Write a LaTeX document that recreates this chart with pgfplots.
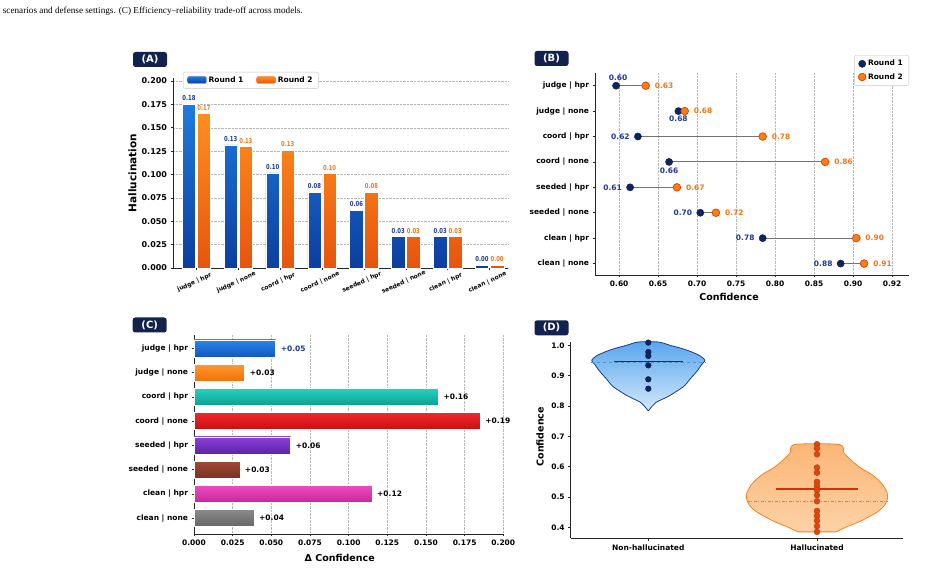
\documentclass[border=0pt]{standalone}
\usepackage{fontspec}
\setmainfont{DejaVu Sans}
\newfontfamily\capfont{Liberation Serif}
\newfontfamily\condfont[FakeStretch=0.78]{DejaVu Sans}
\usepackage{pgfplots}
\usepackage{pgfplotstable}
\pgfplotsset{compat=1.18}

% ---------- colours ----------
\definecolor{tagnavy}{HTML}{13224D}
\definecolor{rOneLight}{HTML}{1E7BE0}
\definecolor{rOneDark}{HTML}{0C3E9E}
\definecolor{rTwoLight}{HTML}{FF8E1F}
\definecolor{rTwoDark}{HTML}{E6550E}
\definecolor{lblBlue}{HTML}{1F3A93}
\definecolor{lblOrange}{HTML}{F07818}
\definecolor{dotNavy}{HTML}{0E2463}
\definecolor{dotOrange}{HTML}{FF7F0E}
\definecolor{dotOrangeEdge}{HTML}{E5420C}
\definecolor{vBlueTop}{HTML}{5AA6EE}
\definecolor{vBlueTip}{HTML}{D3E8FB}
\definecolor{vBlueEdge}{HTML}{1B3A8C}
\definecolor{vOrgTop}{HTML}{FBB676}
\definecolor{vOrgBot}{HTML}{FDD2A6}
\definecolor{vOrgEdge}{HTML}{F58220}
\definecolor{hallDot}{HTML}{D9480F}
\definecolor{hallDotEdge}{HTML}{B8360A}
\definecolor{medBlue}{HTML}{4F8FD0}
\definecolor{medOrange}{HTML}{F07A20}
\definecolor{meanNavy}{HTML}{13296B}
\definecolor{meanRed}{HTML}{D0300A}
\definecolor{cBlueT}{HTML}{2A86E8}\definecolor{cBlueB}{HTML}{1357C0}
\definecolor{cOrgT}{HTML}{FF9A2E}\definecolor{cOrgB}{HTML}{F0700A}
\definecolor{cTealT}{HTML}{22D3C0}\definecolor{cTealB}{HTML}{0F9E92}
\definecolor{cRedT}{HTML}{F0282A}\definecolor{cRedB}{HTML}{C80F12}
\definecolor{cPurT}{HTML}{8A42D8}\definecolor{cPurB}{HTML}{5E22A8}
\definecolor{cBrnT}{HTML}{A04A36}\definecolor{cBrnB}{HTML}{7A3020}
\definecolor{cMagT}{HTML}{EC4CBF}\definecolor{cMagB}{HTML}{C8279A}
\definecolor{cGryT}{HTML}{8A8A8A}\definecolor{cGryB}{HTML}{666666}

% ---------- data ----------
% (A) hallucination rate per scenario/defense and round
\pgfplotstableread{
g r1 r2
0 0.1751 0.1651
1 0.1316 0.1297
2 0.1016 0.1260
3 0.0810 0.1010
4 0.0620 0.0810
5 0.0335 0.0335
6 0.0335 0.0335
7 0.0029 0.0029
}\halluc

% (B) mean confidence, round 1 vs round 2 (row 7 = judge | hpr)
\pgfplotstableread{
row r1 r2
7 0.596 0.634
6 0.676 0.684
5 0.624 0.784
4 0.664 0.864
3 0.614 0.674
2 0.704 0.724
1 0.784 0.904
0 0.884 0.914
}\dumbbell

% (C) change in confidence
\pgfplotstableread{
row d
7 0.0528
6 0.0328
5 0.1580
4 0.1851
3 0.0625
2 0.0296
1 0.1151
0 0.0388
}\deltaconf

\tikzset{
  tag/.style={fill=tagnavy, rounded corners=2.5pt, text=white,
    font=\bfseries\fontsize{10}{12}\selectfont,
    minimum width=34pt, minimum height=15pt, inner sep=0pt},
  vallabel/.style={font=\bfseries\fontsize{7.5}{9}\selectfont, inner sep=0pt},
}

\pgfplotsset{
  panel/.style={
    scale only axis,
    anchor=south west,
    axis x line*=bottom, axis y line*=left,
    axis line style={-, black!85, line width=0.6pt},
    tick align=outside,
    major tick length=2.5pt,
    tick style={black!85, line width=0.5pt},
    tick label style={font=\bfseries\fontsize{7.5}{9}\selectfont},
    label style={font=\bfseries\fontsize{9.5}{11}\selectfont},
    /pgf/number format/assume math mode=true,
    grid style={densely dotted, black!28, line width=0.4pt},
    clip=false,
  },
  twodp/.style={nodes near coords={\pgfmathprintnumber[fixed,fixed zerofill,precision=2]{\pgfplotspointmeta}}},
  labelonly/.style={forget plot, only marks, mark=none},
}

\newcommand{\scen}{clean | none, clean | hpr, seeded | none, seeded | hpr, coord | none, coord | hpr, judge | none, judge | hpr}

\begin{document}
\begin{tikzpicture}
\path[use as bounding box] (0pt,0pt) rectangle (927pt,577pt);

\node[anchor=base west, inner sep=0pt, font=\capfont\fontsize{9.2}{11}\selectfont]
  at (2.7pt,563.5pt) {scenarios and defense settings. (C) Efficiency–reliability trade-off across models.};

% ================= (A) grouped bars =================
\begin{axis}[panel,
  at={(173pt,309pt)}, width=335pt, height=190pt,
  xmin=-0.56, xmax=7.44, ymin=0, ymax=0.2032,
  xtick={0,...,7},
  xticklabels={judge | hpr, judge | none, coord | hpr, coord | none, seeded | hpr, seeded | none, clean | hpr, clean | none},
  xticklabel style={anchor=center, yshift=-12pt, xshift=-2pt, rotate=25, font=\bfseries\fontsize{6}{7}\selectfont},
  ytick={0,0.025,0.05,0.075,0.1,0.125,0.15,0.175,0.2},
  yticklabel style={font=\bfseries\fontsize{8}{9}\selectfont, /pgf/number format/.cd, fixed, fixed zerofill, precision=3},
  ymajorgrids,
  ylabel={Hallucination},
  ylabel style={at={(axis description cs:-0.121,0.5)}, anchor=center, font=\bfseries\fontsize{10.5}{12}\selectfont},
  legend style={at={(axis description cs:0.03,1.0316)}, anchor=north west,
    legend columns=2, draw=black!22, rounded corners=2pt, fill=white,
    font=\bfseries\fontsize{7.5}{9}\selectfont, inner xsep=4pt, inner ysep=2.5pt,
    /tikz/every even column/.append style={column sep=11pt}},
]
\addplot[ybar, forget plot, bar width=0.32, bar shift=-0.18, draw=white, line width=0.6pt,
  top color=rOneLight, bottom color=rOneDark] table[x=g, y=r1] \halluc;
\addplot[ybar, forget plot, bar width=0.32, bar shift=0.18, draw=white, line width=0.6pt,
  top color=rTwoLight, bottom color=rTwoDark] table[x=g, y=r2] \halluc;
\addplot[labelonly, point meta=y, twodp,
  every node near coord/.append style={anchor=south, yshift=3pt, text=lblBlue,
    font=\condfont\bfseries\fontsize{6.8}{8}\selectfont, inner sep=0pt}]
  table[x expr=\thisrow{g}-0.18, y=r1] \halluc;
\addplot[labelonly, point meta=y, twodp,
  every node near coord/.append style={anchor=south, yshift=3pt, text=lblOrange,
    font=\condfont\bfseries\fontsize{6.8}{8}\selectfont, inner sep=0pt}]
  table[x expr=\thisrow{g}+0.18, y=r2] \halluc;
\addlegendimage{legend image code/.code={\draw[draw=rOneDark!70, top color=rOneLight, bottom color=rOneDark] (0pt,-3.2pt) rectangle (19pt,3.8pt);}}
\addlegendentry{Round 1}
\addlegendimage{legend image code/.code={\draw[draw=rTwoDark!80, top color=rTwoLight, bottom color=rTwoDark] (0pt,-3.2pt) rectangle (19pt,3.8pt);}}
\addlegendentry{Round 2}
\end{axis}
\node[tag] at (150pt,517.5pt) {(A)};

% ================= (B) dumbbell =================
\begin{axis}[panel,
  at={(595pt,302pt)}, width=314pt, height=202pt,
  xmin=0.569, xmax=0.9716, ymin=-0.45, ymax=7.5,
  xtick={0.60,0.65,0.70,0.75,0.80,0.85,0.90,0.95},
  xticklabels={0.60,0.65,0.70,0.75,0.80,0.85,0.90,0.92},
  ytick={0,...,7},
  yticklabels/.expanded={\scen},
  xmajorgrids,
  xlabel={Confidence},
  xlabel style={at={(axis description cs:0.427,0)}, anchor=center, yshift=-22pt},
  legend style={at={(axis description cs:1,1.089)}, anchor=north east,
    draw=black!22, rounded corners=2pt, fill=white,
    font=\bfseries\fontsize{7.5}{9}\selectfont, inner xsep=4pt, inner ysep=3pt,
    row sep=2pt},
  r1lab/.style={labelonly, point meta=x, twodp,
    every node near coord/.append style={vallabel, text=lblBlue, #1}},
]
\addplot[forget plot, only marks, mark=none,
  error bars/.cd, x dir=plus, x explicit, error mark=none,
  error bar style={draw=black!55, line width=1.1pt}]
  table[x=r1, y=row, x error expr=\thisrow{r2}-\thisrow{r1}] \dumbbell;
\addplot[only marks, mark=*, mark size=3.6pt,
  mark options={fill=dotNavy, draw=dotNavy!70!black, line width=0.4pt}]
  table[x=r1, y=row] \dumbbell;
\addlegendentry{Round 1}
\addplot[only marks, mark=*, mark size=3.8pt,
  mark options={fill=dotOrange, draw=dotOrangeEdge, line width=0.8pt}]
  table[x=r2, y=row] \dumbbell;
\addlegendentry{Round 2}
% value labels
\addplot[r1lab={anchor=south, yshift=5pt, xshift=2pt}, restrict y to domain=6.5:7.5] table[x=r1, y=row] \dumbbell;
\addplot[r1lab={anchor=north, yshift=-5pt}, restrict y to domain=5.5:6.5] table[x=r1, y=row] \dumbbell;
\addplot[r1lab={anchor=east, xshift=-8pt}, restrict y to domain=4.5:5.5] table[x=r1, y=row] \dumbbell;
\addplot[r1lab={anchor=north, yshift=-6pt}, restrict y to domain=3.5:4.5] table[x=r1, y=row] \dumbbell;
\addplot[r1lab={anchor=east, xshift=-8pt}, restrict y to domain=-0.5:3.5] table[x=r1, y=row] \dumbbell;
\addplot[labelonly, point meta=x, twodp,
  every node near coord/.append style={vallabel, anchor=west, xshift=9pt, text=lblOrange}]
  table[x=r2, y=row] \dumbbell;
\end{axis}
\node[tag] at (551.5pt,518.5pt) {(B)};

% ================= (C) horizontal bars =================
\begin{axis}[panel,
  at={(194pt,43pt)}, width=309.3pt, height=199pt,
  xmin=0, xmax=0.2, ymin=-0.65, ymax=7.55,
  xtick={0,0.025,0.05,0.075,0.1,0.125,0.15,0.175,0.2},
  xticklabel style={/pgf/number format/.cd, fixed, fixed zerofill, precision=3},
  ytick={0,...,7},
  yticklabels/.expanded={\scen},
  xmajorgrids,
  xlabel={Δ Confidence},
  xlabel style={at={(axis description cs:0.471,0)}, anchor=center, yshift=-24pt},
  cbar/.style 2 args={xbar, forget plot, bar width=0.7, bar shift=0, draw=white, line width=0.5pt,
    top color=#1, bottom color=#2},
  dlab/.style={labelonly, point meta=x,
    nodes near coords={+\pgfmathprintnumber[fixed,fixed zerofill,precision=2]{\pgfplotspointmeta}},
    every node near coord/.append style={vallabel, anchor=west, xshift=5pt, text=#1}},
]
\addplot[cbar={cBlueT}{cBlueB}, restrict y to domain=6.5:7.5] table[x=d, y=row] \deltaconf;
\addplot[cbar={cOrgT}{cOrgB},   restrict y to domain=5.5:6.5] table[x=d, y=row] \deltaconf;
\addplot[cbar={cTealT}{cTealB}, restrict y to domain=4.5:5.5] table[x=d, y=row] \deltaconf;
\addplot[cbar={cRedT}{cRedB},   restrict y to domain=3.5:4.5] table[x=d, y=row] \deltaconf;
\addplot[cbar={cPurT}{cPurB},   restrict y to domain=2.5:3.5] table[x=d, y=row] \deltaconf;
\addplot[cbar={cBrnT}{cBrnB},   restrict y to domain=1.5:2.5] table[x=d, y=row] \deltaconf;
\addplot[cbar={cMagT}{cMagB},   restrict y to domain=0.5:1.5] table[x=d, y=row] \deltaconf;
\addplot[cbar={cGryT}{cGryB},   restrict y to domain=-0.5:0.5] table[x=d, y=row] \deltaconf;
\addplot[dlab=lblBlue, restrict y to domain=6.5:7.5] table[x=d, y=row] \deltaconf;
\addplot[dlab=black, restrict y to domain=-0.5:6.5] table[x=d, y=row] \deltaconf;
\end{axis}
\node[tag] at (149.7pt,252pt) {(C)};

% ================= (D) violins =================
\begin{axis}[panel,
  at={(570.7pt,38.7pt)}, width=332pt, height=196.6pt,
  xmin=0.54, xmax=2.508, ymin=0.3638, ymax=1.012,
  xtick={1,2}, xticklabels={Non-hallucinated, Hallucinated},
  ytick={0.4,0.5,0.6,0.7,0.8,0.9,1.0},
  yticklabel style={/pgf/number format/.cd, fixed, fixed zerofill, precision=1},
  ylabel={Confidence},
  ylabel style={at={(axis description cs:-0.0925,0.517)}, anchor=center},
]
% density outlines
\addplot[draw=vBlueEdge, line width=0.8pt, top color=vBlueTop, middle color=vBlueTop!85!white, bottom color=vBlueTip, smooth, tension=0.45]
 coordinates {(0.998,0.785) (0.991,0.790) (0.976,0.800) (0.951,0.813) (0.914,0.823) (0.871,0.835)
  (0.828,0.850) (0.793,0.863) (0.772,0.875) (0.751,0.890) (0.723,0.907) (0.704,0.920) (0.686,0.935)
  (0.665,0.951) (0.698,0.967) (0.751,0.980) (0.804,0.990) (0.870,1.000) (0.941,1.011)
  (1.059,1.011) (1.130,1.000) (1.196,0.990) (1.249,0.980) (1.302,0.967) (1.335,0.951) (1.314,0.935)
  (1.296,0.920) (1.277,0.907) (1.249,0.890) (1.228,0.875) (1.207,0.863) (1.172,0.850) (1.129,0.835)
  (1.086,0.823) (1.049,0.813) (1.024,0.800) (1.009,0.790) (1.002,0.785)} --cycle;
\addplot[draw=vOrgEdge, line width=0.8pt, top color=vOrgTop, bottom color=vOrgBot, smooth, tension=0.45]
 coordinates {(1.887,0.385) (1.822,0.402) (1.751,0.418) (1.692,0.435) (1.644,0.450) (1.603,0.470)
  (1.582,0.495) (1.585,0.515) (1.609,0.539) (1.644,0.560) (1.686,0.578) (1.739,0.595) (1.787,0.616)
  (1.840,0.645) (1.867,0.673) (2.133,0.673) (2.160,0.645) (2.213,0.616) (2.261,0.595) (2.314,0.578)
  (2.356,0.560) (2.391,0.539) (2.415,0.515) (2.418,0.495) (2.397,0.470) (2.356,0.450) (2.308,0.435)
  (2.249,0.418) (2.178,0.402) (2.113,0.385)} --cycle;
% median (dashed) and mean (solid)
\addplot[medBlue, dashed, line width=0.8pt] coordinates {(0.659,0.944) (1.341,0.944)};
\addplot[medOrange, dash pattern=on 3pt off 1.5pt on 1pt off 1.5pt, line width=0.8pt] coordinates {(1.585,0.484) (2.415,0.484)};
\addplot[meanNavy, line width=1.2pt] coordinates {(0.795,0.947) (1.205,0.947)};
\addplot[meanRed, line width=1.5pt] coordinates {(1.755,0.526) (2.245,0.526)};
% individual observations
\addplot[only marks, mark=*, mark size=2.9pt, mark options={fill=dotNavy, draw=dotNavy!70!black, line width=0.3pt}]
 coordinates {(1,1.009) (1,0.978) (1,0.965) (1,0.934) (1,0.888) (1,0.857)};
\addplot[only marks, mark=*, mark size=3pt, mark options={fill=hallDot, draw=hallDotEdge, line width=0.3pt}]
 coordinates {(2,0.674) (2,0.660) (2,0.641) (2,0.597) (2,0.580) (2,0.550) (2,0.537) (2,0.523)
  (2,0.506) (2,0.486) (2,0.454) (2,0.438) (2,0.422) (2,0.404) (2,0.385)};
\end{axis}
\node[tag] at (551.5pt,249.2pt) {(D)};

\end{tikzpicture}
\end{document}
